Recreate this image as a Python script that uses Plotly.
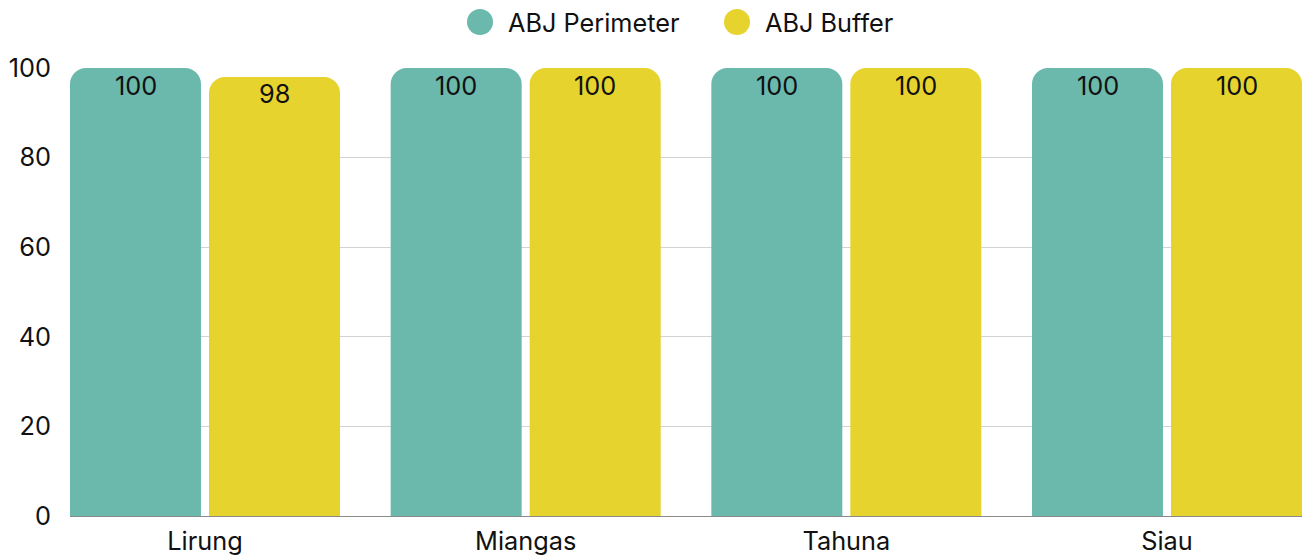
import plotly.graph_objects as go

categories = ["Lirung", "Miangas", "Tahuna", "Siau"]
perimeter = [100, 100, 100, 100]
buffer = [98, 100, 100, 100]
series_names = ["ABJ Perimeter", "ABJ Buffer"]
y_ticks = [0, 20, 40, 60, 80, 100]

TEAL = "#6BB9AD"
YELLOW = "#E6D32E"
FONT = "Inter, Roboto, sans-serif"
FS = 25.3

FIG_W, FIG_H = 1302, 556
ML, MT, MR, MB = 70, 68, 0, 40
PLOT_W, PLOT_H = FIG_W - ML - MR, FIG_H - MT - MB

x_idx = list(range(len(categories)))
bar_w = 0.4085
offsets = [-0.421, 0.0125]
colors = [TEAL, YELLOW]

fig = go.Figure()
annotations = []
for vals, color, off in zip([perimeter, buffer], colors, offsets):
    fig.add_trace(go.Bar(
        x=x_idx, y=vals, width=bar_w, offset=off,
        marker=dict(color=color, cornerradius=16, line=dict(width=0)),
        showlegend=False, hoverinfo="y",
    ))
    for i, v in zip(x_idx, vals):
        annotations.append(dict(
            x=i + off + bar_w / 2, y=v, xref="x", yref="y", text=str(v),
            showarrow=False, xanchor="center", yanchor="middle", yshift=-17,
            font=dict(size=FS, color="#111111", family=FONT),
        ))

# custom legend (large circle markers)
shapes = []
legend_items = [(480, 506), (737, 763)]  # circle center px, text left px
for (cx, tx), name, color in zip(legend_items, series_names, colors):
    px = (cx - ML) / PLOT_W
    py = (FIG_H - MB - 22) / PLOT_H
    shapes.append(dict(type="circle", xref="paper", yref="paper",
                       xsizemode="pixel", ysizemode="pixel",
                       xanchor=px, yanchor=py, x0=-13, x1=13, y0=-13, y1=13,
                       fillcolor=color, line=dict(width=0)))
    annotations.append(dict(x=(tx - ML) / PLOT_W, y=py, xref="paper", yref="paper",
                            text=name, showarrow=False, xanchor="left", yanchor="middle",
                            font=dict(size=FS, color="#111111", family=FONT)))

fig.update_layout(
    width=FIG_W, height=FIG_H,
    margin=dict(l=ML, r=MR, t=MT, b=MB, autoexpand=False),
    paper_bgcolor="white", plot_bgcolor="white",
    barmode="overlay", showlegend=False,
    font=dict(family=FONT, size=FS, color="#111111"),
    annotations=annotations, shapes=shapes,
    xaxis=dict(range=[-0.421, 3.421], tickvals=x_idx, ticktext=categories,
               showgrid=False, zeroline=False, showline=False, ticks="",
               ticklabelstandoff=8, tickfont=dict(size=FS)),
    yaxis=dict(range=[0, 100], tickvals=y_ticks, showgrid=True, gridcolor="#D3D3D3",
               gridwidth=1, zeroline=True, zerolinecolor="#8A8A8A", zerolinewidth=1,
               showline=False, ticks="", ticklabelstandoff=18,
               tickfont=dict(size=FS)),
)
fig.write_html(
    "out.html",
    config={"displayModeBar": False},
    post_script="document.body.style.margin='0';document.body.style.overflow='hidden';",
)
